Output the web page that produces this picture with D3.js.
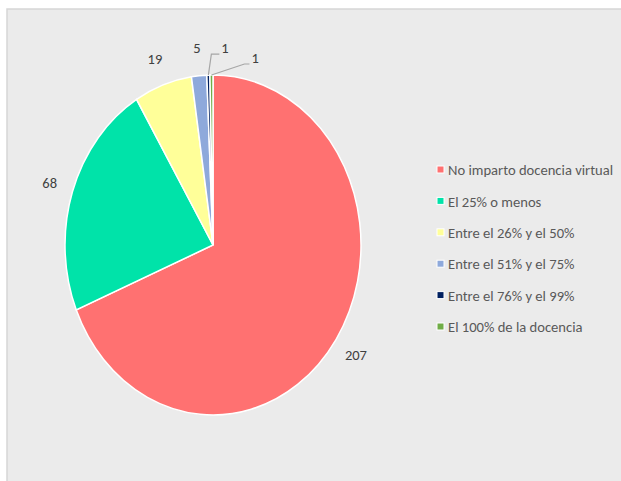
<!DOCTYPE html>
<html>
<head>
<meta charset="utf-8">
<script src="https://cdn.jsdelivr.net/npm/d3@7"></script>
<style>
  body { margin: 0; background: #fff; }
  svg text { font-family: Carlito, "Liberation Sans Narrow", "Open Sans", sans-serif; }
</style>
</head>
<body>
<div id="chart"></div>
<script>
// data
var categories = ["No imparto docencia virtual", "El 25% o menos", "Entre el 26% y el 50%",
                  "Entre el 51% y el 75%", "Entre el 76% y el 99%", "El 100% de la docencia"];
var values = [207, 68, 19, 5, 1, 1];
var colors = ["#FF7171", "#00E3A9", "#FFFF99", "#8EA9DB", "#002060", "#70AD47"];

var width = 621, height = 481;
var cx = 213, cy = 245, r = 148, squash = 170 / 148;

var svg = d3.select("#chart").append("svg")
    .attr("width", width)
    .attr("height", height);

// chart area
svg.append("rect")
    .attr("x", 7).attr("y", 9)
    .attr("width", width + 10).attr("height", height + 10)
    .attr("fill", "#EBEBEB")
    .attr("stroke", "#D6D6D6")
    .attr("stroke-width", 1.5);

var pie = d3.pie().sort(null).value(function (d) { return d; });
var arcs = pie(values);

var arc = d3.arc().innerRadius(0).outerRadius(r);

var g = svg.append("g")
    .attr("transform", "translate(" + cx + "," + cy + ") scale(1," + squash + ")");

g.selectAll("path")
    .data(arcs)
    .enter().append("path")
    .attr("d", arc)
    .attr("fill", function (d, i) { return colors[i]; })
    .attr("stroke", "#fff")
    .attr("stroke-width", 1.5)
    .attr("vector-effect", "non-scaling-stroke");

// map a point in pie space to page space
function toPage(p) { return [cx + p[0], cy + p[1] * squash]; }
function onArc(a, rad) { return [Math.sin(a) * rad, -Math.cos(a) * rad]; }

// labels for the bigger slices sit just outside the pie
var labelRadius = 172;
var labels = svg.append("g")
    .attr("font-size", 14.5)
    .attr("fill", "#404040");

arcs.forEach(function (d, i) {
    var mid = (d.startAngle + d.endAngle) / 2;
    if (d.value >= 5) {
        var p = toPage(onArc(mid, labelRadius));
        labels.append("text")
            .attr("x", p[0]).attr("y", p[1])
            .attr("dy", "0.35em")
            .attr("text-anchor", "middle")
            .text(d.value);
    }
});

// tiny slices get leader lines
var leaders = [
    { idx: 4, dx: 3, dy: -21, len: 8 },
    { idx: 5, dx: 33, dy: -11, len: 5 }
];
leaders.forEach(function (l) {
    var d = arcs[l.idx];
    var mid = (d.startAngle + d.endAngle) / 2;
    var s = toPage(onArc(mid, r));
    var e = [s[0] + l.dx, s[1] + l.dy];
    var t = [e[0] + l.len, e[1]];
    svg.append("polyline")
        .attr("points", [s, e, t].map(function (p) { return p.join(","); }).join(" "))
        .attr("fill", "none")
        .attr("stroke", "#A6A6A6")
        .attr("stroke-width", 1.2);
    labels.append("text")
        .attr("x", t[0] + 2).attr("y", t[1])
        .attr("dy", "-0.05em")
        .text(d.value);
});

// legend
var legend = svg.append("g")
    .attr("transform", "translate(437,170)");

var row = legend.selectAll("g")
    .data(categories)
    .enter().append("g")
    .attr("transform", function (d, i) { return "translate(0," + (i * 31.4) + ")"; });

row.append("rect")
    .attr("x", 0).attr("y", -4)
    .attr("width", 7).attr("height", 7)
    .attr("fill", function (d, i) { return colors[i]; })
    .attr("stroke", "#fff")
    .attr("stroke-width", 1);

row.append("text")
    .attr("x", 11)
    .attr("dy", "0.35em")
    .attr("font-size", 14.6)
    .attr("fill", "#595959")
    .text(function (d) { return d; });
</script>
</body>
</html>
